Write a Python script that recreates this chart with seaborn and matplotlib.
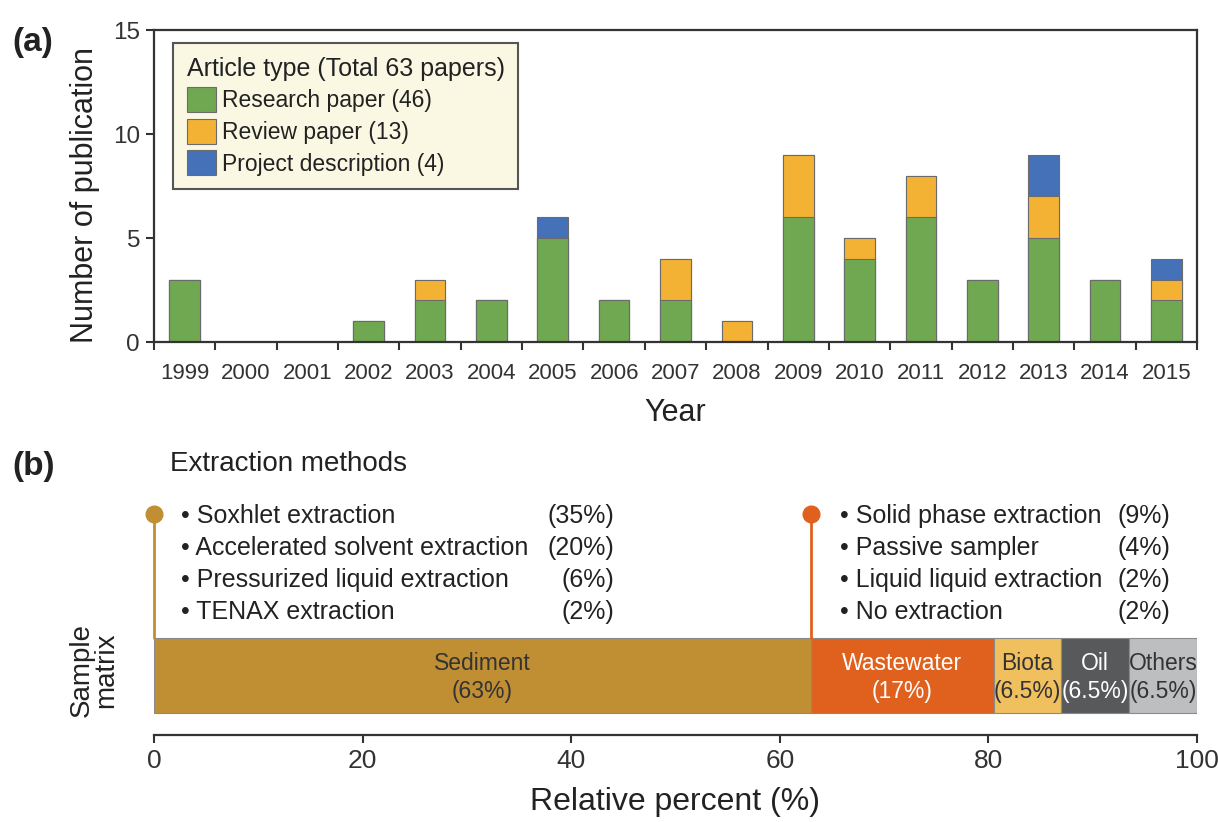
import numpy as np
import pandas as pd
import seaborn as sns
import matplotlib.pyplot as plt
from matplotlib.patches import Patch

# Panel (a) data: publications per year by article type
years = [str(y) for y in range(1999, 2016)]
research = [3, 0, 0, 1, 2, 2, 5, 2, 2, 0, 6, 4, 6, 3, 5, 3, 2]
review = [0, 0, 0, 0, 1, 0, 0, 0, 2, 1, 3, 1, 2, 0, 2, 0, 1]
project = [0, 0, 0, 0, 0, 0, 1, 0, 0, 0, 0, 0, 0, 0, 2, 0, 1]
type_names = ["Research paper (46)", "Review paper (13)", "Project description (4)"]
type_colors = ["#70A852", "#F3B234", "#4471B8"]

# Panel (b) data: sample matrix shares
matrices = ["Sediment", "Wastewater", "Biota", "Oil", "Others"]
matrix_share = [63, 17.5, 6.5, 6.5, 6.5]
matrix_labels = ["63%", "17%", "6.5%", "6.5%", "6.5%"]
matrix_colors = ["#C18F33", "#E0611E", "#F0C05F", "#58595B", "#BDBEC0"]
matrix_text = ["#333333", "white", "#333333", "white", "#333333"]

sediment_methods = ["Soxhlet extraction", "Accelerated solvent extraction",
                    "Pressurized liquid extraction", "TENAX extraction"]
sediment_pct = ["35%", "20%", "6%", "2%"]
water_methods = ["Solid phase extraction", "Passive sampler",
                 "Liquid liquid extraction", "No extraction"]
water_pct = ["9%", "4%", "2%", "2%"]

sns.set_style("ticks")
plt.rcParams["font.family"] = ["Liberation Sans", "DejaVu Sans"]
plt.rcParams["text.color"] = "#222222"
plt.rcParams["axes.labelcolor"] = "#222222"
plt.rcParams["xtick.color"] = "#333333"
plt.rcParams["ytick.color"] = "#333333"

fig = plt.figure(figsize=(12.18, 8.22), dpi=100)
W, H = 1218, 822


def px_axes(left, top, right, bottom):
    return fig.add_axes([left / W, 1 - bottom / H, (right - left) / W, (bottom - top) / H])


# ---------------- panel (a) ----------------
ax = px_axes(154, 30, 1197, 342)
df = pd.DataFrame({"year": years, "research": research, "review": review, "project": project})
df["c1"] = df["research"]
df["c2"] = df["c1"] + df["review"]
df["c3"] = df["c2"] + df["project"]

# stack by drawing cumulative totals from top down
for col, color in zip(["c3", "c2", "c1"], type_colors[::-1]):
    sns.barplot(data=df, x="year", y=col, color=color, width=0.5,
                edgecolor="#6b6b6b", linewidth=0.8, saturation=1, ax=ax)

ax.set_xlim(-0.5, len(years) - 0.5)
ax.set_ylim(0, 15)
ax.set_yticks([0, 5, 10, 15])
ax.set_xticks(np.arange(len(years)))
ax.set_xticklabels(years)
ax.set_xticks(np.arange(len(years) + 1) - 0.5, minor=True)
ax.tick_params(axis="x", which="major", length=0, labelsize=16, pad=15)
ax.tick_params(axis="x", which="minor", length=6, width=1.5, direction="out")
ax.tick_params(axis="y", length=6, width=1.5, labelsize=17.5, pad=4)
for s in ax.spines.values():
    s.set_color("#333333")
    s.set_linewidth(1.6)
ax.set_xlabel("Year", fontsize=22, labelpad=10)
ax.set_ylabel("Number of publication", fontsize=22)
ax.yaxis.set_label_coords(-0.052, 0.47)

handles = [Patch(facecolor=c, edgecolor="#6b6b6b", linewidth=0.8) for c in type_colors]
leg = ax.legend(handles, type_names, title="Article type (Total 63 papers)",
                loc="upper left", bbox_to_anchor=(0.018, 0.958), borderaxespad=0,
                fontsize=16.5, title_fontsize=18, alignment="left",
                handlelength=1.3, handleheight=1.3, handletextpad=0.25,
                labelspacing=0.28, borderpad=0.6, frameon=True, fancybox=False)
leg.get_frame().set_facecolor("#FAF8E3")
leg.get_frame().set_edgecolor("#555555")
leg.get_frame().set_linewidth(1.5)
leg.get_frame().set_alpha(1)

fig.text(12 / W, 1 - 43 / H, "(a)", fontsize=24, fontweight="bold", va="center")

# ---------------- panel (b) ----------------
bx = px_axes(154, 490, 1197, 735)
# bar from y=-0.5 to 0.5 maps to pixels 713..638 (75 px per unit)
y_bottom = -0.5 - (735 - 713) / 75
y_top = 0.5 + (638 - 490) / 75
left = 0
for name, share, color, lab, tc in zip(matrices, matrix_share, matrix_colors, matrix_labels, matrix_text):
    bx.barh(0, share, left=left, height=1, color=color, edgecolor="#8a8a8a", linewidth=0.8)
    bx.text(left + share / 2, -0.03, f"{name}\n({lab})", ha="center", va="center",
            fontsize=16.5, color=tc, linespacing=1.3)
    left += share

bx.set_xlim(0, 100)
bx.set_ylim(y_bottom, y_top)
bx.set_yticks([])
bx.set_xticks([0, 20, 40, 60, 80, 100])
bx.tick_params(axis="x", length=6, width=1.5, labelsize=19, pad=4)
for s in ["left", "top", "right"]:
    bx.spines[s].set_visible(False)
bx.spines["bottom"].set_color("#333333")
bx.spines["bottom"].set_linewidth(1.6)
bx.set_xlabel("Relative percent (%)", fontsize=23, labelpad=10)
bx.set_ylabel("Sample\nmatrix", fontsize=20, linespacing=0.95)
bx.yaxis.set_label_coords(-0.033, 1 - (670 - 490) / (735 - 490))

# lollipop stems for extraction methods
dot_y = 0.5 + (638 - 514) / 75
starts = np.cumsum([0] + matrix_share)
for xs, color in [(starts[0], matrix_colors[0]), (starts[1], matrix_colors[1])]:
    bx.plot([xs, xs], [0.5, dot_y], color=color, lw=2, clip_on=False, zorder=3)
    bx.plot([xs], [dot_y], marker="o", ms=12, color=color, clip_on=False, zorder=4)

line_px = [516, 548, 580, 612]
for i in range(4):
    yy = 0.5 + (638 - line_px[i]) / 75
    bx.text(2.6, yy, "\u2022 " + sediment_methods[i], fontsize=18, va="center")
    bx.text(44.1, yy, f"({sediment_pct[i]})", fontsize=18, va="center", ha="right")
    bx.text(65.8, yy, "\u2022 " + water_methods[i], fontsize=18, va="center")
    bx.text(97.4, yy, f"({water_pct[i]})", fontsize=18, va="center", ha="right")

fig.text(170 / W, 1 - 464 / H, "Extraction methods", fontsize=20, va="center")
fig.text(12 / W, 1 - 466 / H, "(b)", fontsize=24, fontweight="bold", va="center")

fig.savefig("out.png", dpi=100)
